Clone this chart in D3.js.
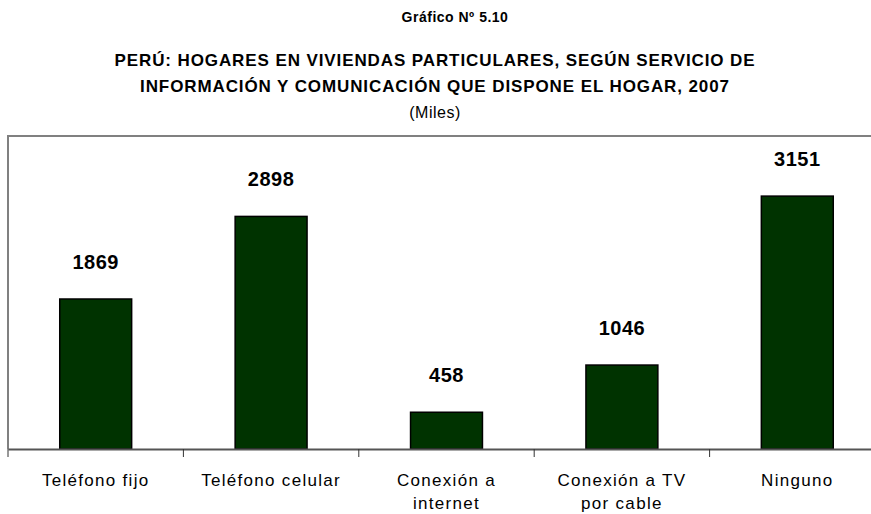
<!DOCTYPE html>
<html>
<head>
<meta charset="utf-8">
<script src="https://cdn.jsdelivr.net/npm/d3@7"></script>
<style>
  body { margin: 0; background: #fff; }
  svg { display: block; font-family: "Liberation Sans", Arial, sans-serif; }
</style>
</head>
<body>
<div id="viz"></div>
<script>
const categories = ['Teléfono fijo', 'Teléfono celular', 'Conexión a internet', 'Conexión a TV por cable', 'Ninguno'];
const catLines = [['Teléfono fijo'], ['Teléfono celular'], ['Conexión a', 'internet'], ['Conexión a TV', 'por cable'], ['Ninguno']];
const values = [1869, 2898, 458, 1046, 3151];
const titleLines = ['PERÚ: HOGARES EN VIVIENDAS PARTICULARES, SEGÚN SERVICIO DE',
                    'INFORMACIÓN Y COMUNICACIÓN QUE DISPONE EL HOGAR, 2007'];

const width = 871, height = 514;
const plotLeft = 8, plotRight = 885, plotTop = 136, plotBase = 449;

const svg = d3.select('#viz')
      .append('svg')
      .attr('width', width)
      .attr('height', height);

// titles
svg.append('text')
    .attr('x', 455).attr('y', 22)
    .attr('text-anchor', 'middle')
    .attr('font-size', 14).attr('font-weight', 'bold')
    .attr('letter-spacing', 0.5)
    .text('Gráfico Nº 5.10');

svg.selectAll('.title')
    .data(titleLines)
    .join('text')
    .attr('x', 435)
    .attr('y', (d, i) => 66 + i * 26)
    .attr('text-anchor', 'middle')
    .attr('font-size', 17).attr('font-weight', 'bold')
    .attr('letter-spacing', 0.9)
    .text(d => d);

svg.append('text')
    .attr('x', 435).attr('y', 118)
    .attr('text-anchor', 'middle')
    .attr('font-size', 16)
    .attr('letter-spacing', 0.5)
    .text('(Miles)');

const x = d3.scaleBand()
      .domain(categories)
      .range([plotLeft, plotRight])
      .paddingInner(0.59)
      .paddingOuter(0.295);

const xCell = d3.scaleBand()
      .domain(categories)
      .range([plotLeft, plotRight]);

const y = d3.scaleLinear()
      .domain([0, 3900])
      .range([plotBase, plotTop]);

// frame (top + left, rest runs off the picture)
svg.append('path')
    .attr('d', `M${plotLeft},${plotBase} V${plotTop} H${width + 5}`)
    .attr('fill', 'none')
    .attr('stroke', '#808080')
    .attr('stroke-width', 2);

// bars
svg.selectAll('.bar')
    .data(values)
    .join('rect')
    .attr('x', (d, i) => x(categories[i]))
    .attr('y', d => y(d))
    .attr('width', x.bandwidth())
    .attr('height', d => plotBase - y(d))
    .attr('fill', '#003300')
    .attr('stroke', '#000')
    .attr('stroke-width', 1.5);

// value labels
svg.selectAll('.val')
    .data(values)
    .join('text')
    .attr('x', (d, i) => x(categories[i]) + x.bandwidth() / 2)
    .attr('y', d => y(d) - 30)
    .attr('text-anchor', 'middle')
    .attr('font-size', 20).attr('font-weight', 'bold')
    .attr('letter-spacing', 0.5)
    .text(d => d);

// category axis
const axis = svg.append('g')
      .attr('transform', `translate(0,${plotBase})`)
      .call(d3.axisBottom(xCell).tickSize(0).tickFormat(''));
axis.select('.domain').attr('stroke', '#555').attr('stroke-width', 2);

svg.selectAll('.tick-mark')
    .data(categories)
    .join('line')
    .attr('x1', d => xCell(d)).attr('x2', d => xCell(d))
    .attr('y1', plotBase).attr('y2', plotBase + 8)
    .attr('stroke', '#333')
    .attr('stroke-width', 1);

categories.forEach((c, i) => {
  const t = svg.append('text')
        .attr('text-anchor', 'middle')
        .attr('font-size', 17)
        .attr('letter-spacing', 1.3);
  catLines[i].forEach((line, j) => {
    t.append('tspan')
        .attr('x', xCell(c) + xCell.bandwidth() / 2)
        .attr('y', 486 + j * 23)
        .text(line);
  });
});
</script>
</body>
</html>
